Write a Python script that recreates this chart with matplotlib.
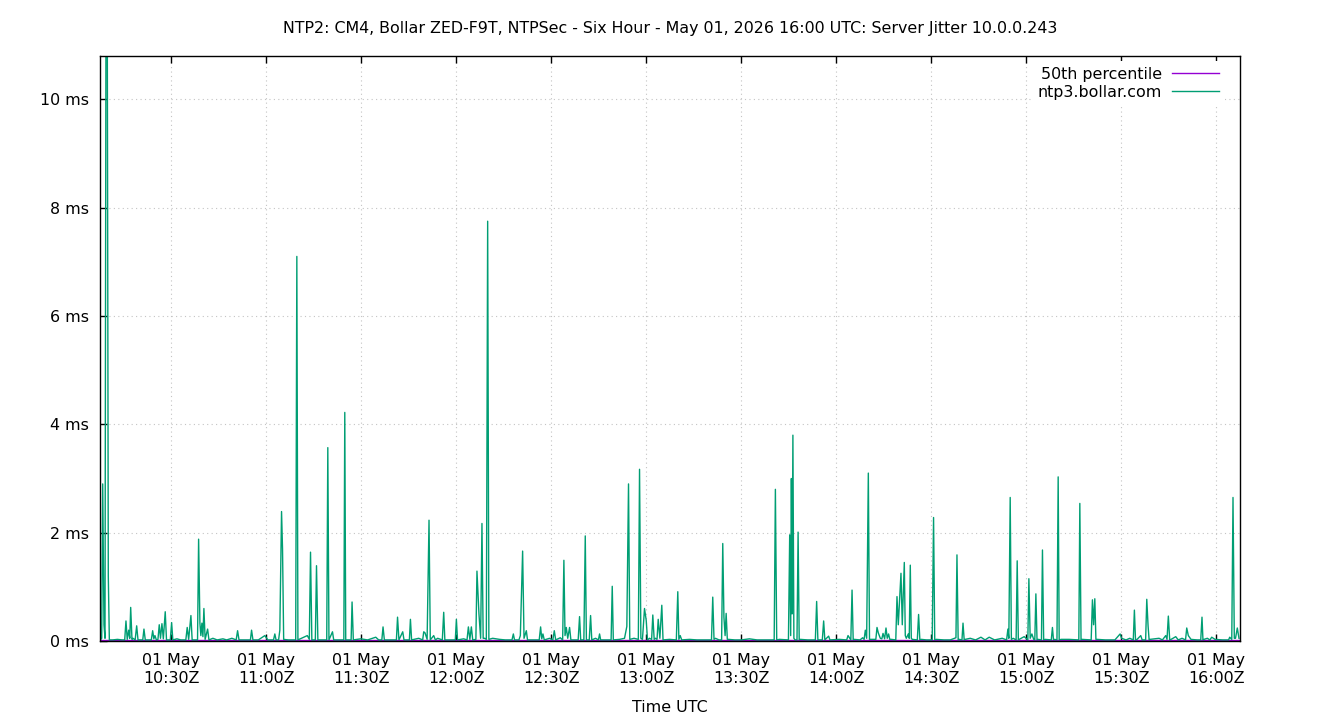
import matplotlib
matplotlib.use("Agg")
import matplotlib.pyplot as plt

# ---- data (minutes after 10:00 UTC, values in ms) ----
jitter_min = [
    7.6, 8.04, 8.35, 8.75, 9.08, 9.4, 9.75, 10.12, 10.45,
    11.5, 13.0, 14.5, 15.3, 15.70, 16.1, 16.56, 16.9, 17.19, 17.6, 17.91,
    18.6, 19.08, 19.5, 21.0, 21.38, 21.8, 23.7, 24.13, 24.5, 24.85, 25.3,
    25.8, 26.21, 26.6, 27.06, 27.5, 28.10, 28.5, 29.7, 30.12, 30.5, 31.79,
    33.0, 34.6, 35.04, 35.5, 36.21, 36.6, 38.3, 38.64, 39.05, 39.35, 39.68,
    40.0, 40.31, 40.7, 41.48, 41.9, 43.15, 44.5, 46.31, 47.5, 49.15, 50.5,
    50.95, 51.4, 53.0, 55.0, 55.36, 55.8, 57.5, 59.56, 60.5, 62.3, 62.71,
    63.1, 63.9, 64.29, 64.83, 65.14, 65.5, 67.0, 69.3, 69.66, 70.0, 71.86,
    72.97, 73.6, 73.98, 74.4, 75.5, 75.87, 76.3, 78.0, 79.1, 79.44, 79.8,
    80.92, 81.3, 83.0, 84.5, 84.80, 85.1, 86.8, 87.10, 87.5, 89.85, 92.0,
    94.58, 95.5, 96.5, 96.88, 97.3, 99.0, 101.1, 101.46, 101.9, 103.10,
    103.5, 105.2, 105.53, 105.9, 108.15, 109.4, 109.73, 110.14, 110.8,
    111.40, 111.8, 112.88, 113.4, 114.14, 115.6, 116.04, 116.4, 118.0,
    119.7, 120.04, 120.4, 122.35, 123.4, 123.83, 124.3, 124.77, 125.2,
    126.2, 126.54, 127.17, 127.7, 128.12, 128.5, 128.97, 129.5, 129.92,
    130.3, 131.50, 133.70, 135.5, 137.6, 138.03, 138.4, 139.8, 140.24,
    140.96, 141.4, 142.13, 142.5, 144.0, 146.2, 146.64, 147.0, 147.37,
    147.8, 149.48, 150.5, 150.96, 151.4, 152.85, 153.6, 153.99, 154.35,
    154.75, 155.2, 155.79, 156.2, 157.5, 158.5, 158.94, 159.3, 160.3,
    160.74, 161.1, 162.0, 162.42, 162.8, 163.99, 164.9, 165.26, 165.6,
    167.5, 168.9, 169.26, 169.6, 171.57, 173.14, 173.87, 174.40, 174.8,
    176.14, 177.5, 177.88, 178.3, 178.8, 179.45, 179.99, 180.4, 181.03,
    181.7, 182.07, 182.5, 182.92, 183.4, 183.78, 184.3, 184.91, 185.3,
    187.34, 189.5, 189.96, 190.3, 190.72, 191.2, 193.65, 196.0, 198.5,
    200.6, 201.00, 201.4, 201.85, 203.0, 203.8, 204.16, 204.53, 204.9,
    205.23, 205.6, 205.96, 208.0, 210.0, 212.58, 215.0, 218.0, 220.4,
    220.78, 221.2, 222.05, 224.9, 225.30, 225.61, 225.83, 226.05, 226.31,
    226.62, 227.0, 227.6, 227.95, 228.3, 228.67, 231.0, 233.4, 233.81,
    234.2, 235.6, 236.02, 236.4, 237.60, 238.0, 240.98, 243.3, 243.72,
    244.6, 244.99, 245.35, 245.71, 247.5, 248.33, 248.8, 249.18, 249.6,
    250.13, 250.5, 251.07, 252.5, 252.87, 253.28, 253.91, 254.4, 254.77,
    255.27, 255.71, 256.1, 256.53, 256.9, 257.38, 258.8, 259.18, 259.59,
    259.91, 260.44, 260.85, 261.49, 261.8, 262.12, 262.75, 263.05, 263.38,
    263.7, 264.01, 265.6, 266.00, 266.4, 266.85, 268.5, 270.3, 270.73,
    271.1, 271.58, 274.0, 276.0, 277.80, 278.12, 278.5, 278.84, 279.7,
    280.03, 280.4, 280.73, 282.31, 284.0, 285.69, 287.0, 288.30, 290.0,
    292.41, 293.8, 294.20, 294.5, 294.93, 295.3, 295.88, 296.8, 297.14,
    297.5, 297.77, 299.35, 300.5, 300.83, 301.24, 301.78, 302.35, 302.7,
    303.04, 303.4, 303.76, 304.8, 305.12, 305.5, 305.97, 307.9, 308.27,
    308.6, 308.97, 309.7, 310.08, 310.4, 311.02, 313.54, 316.6, 316.92,
    317.3, 317.65, 320.5, 320.90, 321.27, 321.65, 322.0, 322.38, 325.0,
    328.0, 329.64, 330.11, 331.5, 332.70, 333.8, 334.15, 334.5, 335.00,
    336.16, 336.6, 337.7, 338.06, 338.47, 338.8, 339.10, 341.94, 343.0,
    344.05, 344.45, 344.87, 345.3, 345.73, 347.21, 348.0, 349.20, 350.3,
    350.68, 351.18, 352.03, 354.0, 355.1, 355.50, 355.8, 356.14, 357.18,
    358.0, 358.57, 359.61, 362.0, 363.9, 364.25, 364.9, 365.29, 365.7,
    366.08, 366.65, 367.18,
]
jitter_ms = [
    0.02, 0.05, 2.9, 0.3, 0.05, 12.0, 13.0, 1.2, 0.02,
    0.02, 0.03, 0.02, 0.02, 0.37, 0.03, 0.2, 0.05, 0.62, 0.03, 0.05,
    0.02, 0.28, 0.02, 0.02, 0.22, 0.02, 0.02, 0.19, 0.04, 0.1, 0.02,
    0.03, 0.3, 0.05, 0.32, 0.04, 0.54, 0.02, 0.02, 0.34, 0.02, 0.04,
    0.02, 0.02, 0.25, 0.03, 0.47, 0.02, 0.02, 1.88, 0.33, 0.1, 0.33,
    0.08, 0.6, 0.03, 0.22, 0.02, 0.05, 0.02, 0.04, 0.02, 0.05, 0.02,
    0.19, 0.02, 0.02, 0.02, 0.2, 0.02, 0.02, 0.1, 0.02, 0.02, 0.13,
    0.02, 0.02, 0.2, 2.39, 1.7, 0.03, 0.02, 0.02, 7.1, 0.02, 0.07,
    0.1, 0.03, 1.64, 0.02, 0.02, 1.39, 0.02, 0.02, 0.02, 3.57, 0.02,
    0.17, 0.02, 0.02, 0.02, 4.22, 0.02, 0.02, 0.72, 0.02, 0.04, 0.02,
    0.07, 0.02, 0.02, 0.26, 0.02, 0.02, 0.02, 0.44, 0.02, 0.17,
    0.02, 0.02, 0.4, 0.02, 0.05, 0.02, 0.17, 0.15, 0.03,
    2.23, 0.02, 0.1, 0.02, 0.05, 0.02, 0.53, 0.02, 0.02,
    0.02, 0.4, 0.02, 0.04, 0.02, 0.26, 0.03, 0.26, 0.02,
    0.03, 1.29, 0.5, 0.05, 2.17, 0.05, 0.05, 0.03, 7.75,
    0.03, 0.05, 0.03, 0.02, 0.02, 0.13, 0.02, 0.02, 0.1,
    1.66, 0.05, 0.19, 0.02, 0.02, 0.02, 0.26, 0.04, 0.13,
    0.02, 0.05, 0.02, 0.19, 0.02, 0.06, 0.02, 1.49, 0.1,
    0.25, 0.05, 0.25, 0.02, 0.02, 0.02, 0.45, 0.02, 0.02,
    1.94, 0.02, 0.02, 0.47, 0.02, 0.05, 0.02, 0.13, 0.02,
    0.02, 0.02, 1.01, 0.02, 0.03, 0.05, 0.27, 2.9, 0.03,
    0.05, 0.03, 3.17, 0.05, 0.03, 0.6, 0.38, 0.02, 0.05,
    0.03, 0.48, 0.03, 0.05, 0.03, 0.4, 0.05, 0.66, 0.02,
    0.03, 0.02, 0.91, 0.03, 0.1, 0.02, 0.03, 0.02, 0.02,
    0.02, 0.81, 0.03, 0.05, 0.02, 0.02, 1.8, 0.44, 0.1,
    0.51, 0.03, 0.03, 0.02, 0.02, 0.04, 0.02, 0.02, 0.02,
    2.8, 0.02, 0.03, 0.02, 1.96, 0.1, 3.0, 0.5, 3.8,
    0.05, 0.02, 0.02, 2.01, 0.02, 0.03, 0.02, 0.02, 0.73,
    0.02, 0.02, 0.37, 0.02, 0.09, 0.02, 0.03, 0.02, 0.1,
    0.02, 0.94, 0.02, 0.03, 0.02, 0.06, 0.03, 0.2, 0.05,
    3.1, 0.03, 0.03, 0.03, 0.25, 0.15, 0.05, 0.04, 0.14,
    0.04, 0.24, 0.05, 0.13, 0.03, 0.03, 0.02, 0.82, 0.3,
    0.66, 1.25, 0.3, 1.45, 0.1, 0.05, 0.13, 0.05, 1.4,
    0.05, 0.03, 0.02, 0.49, 0.02, 0.03, 0.02, 0.02, 2.28,
    0.02, 0.03, 0.02, 0.02, 0.06, 1.59, 0.02, 0.03, 0.02,
    0.33, 0.02, 0.03, 0.05, 0.02, 0.07, 0.02, 0.07, 0.02,
    0.05, 0.02, 0.22, 0.05, 2.65, 0.03, 0.05, 0.02, 1.48,
    0.02, 0.03, 0.08, 0.02, 1.15, 0.05, 0.13, 0.03, 0.02,
    0.87, 0.02, 0.03, 0.02, 1.68, 0.02, 0.03, 0.02, 0.25,
    0.02, 0.03, 0.02, 3.03, 0.02, 0.03, 0.03, 0.02, 2.54,
    0.02, 0.03, 0.02, 0.76, 0.3, 0.78, 0.03, 0.03, 0.02,
    0.02, 0.13, 0.05, 0.02, 0.05, 0.02, 0.57, 0.02, 0.03,
    0.1, 0.02, 0.02, 0.77, 0.28, 0.02, 0.03, 0.05, 0.02,
    0.1, 0.03, 0.46, 0.02, 0.03, 0.08, 0.02, 0.05, 0.02,
    0.24, 0.1, 0.03, 0.02, 0.02, 0.44, 0.02, 0.03, 0.05,
    0.02, 0.07, 0.03, 0.02, 0.02, 0.07, 0.03, 2.65, 0.05,
    0.05, 0.24, 0.05,
]
percentile_min = [7.5, 60.0, 120.0, 180.0, 240.0, 300.0, 367.5]
percentile_ms = [0.012, 0.012, 0.012, 0.012, 0.012, 0.012, 0.012]

xtick_min = [30, 60, 90, 120, 150, 180, 210, 240, 270, 300, 330, 360]
xtick_labels = ["01 May\n10:30Z", "01 May\n11:00Z", "01 May\n11:30Z",
                "01 May\n12:00Z", "01 May\n12:30Z", "01 May\n13:00Z",
                "01 May\n13:30Z", "01 May\n14:00Z", "01 May\n14:30Z",
                "01 May\n15:00Z", "01 May\n15:30Z", "01 May\n16:00Z"]
ytick_ms = [0, 2, 4, 6, 8, 10]
ytick_labels = ["0 ms", "2 ms", "4 ms", "6 ms", "8 ms", "10 ms"]

title = ("NTP2: CM4, Bollar ZED-F9T, NTPSec - Six Hour - May 01, 2026 16:00 UTC: "
         "Server Jitter 10.0.0.243")

FS = 11.4

# ---- figure ----
W, H = 1340, 720
fig = plt.figure(figsize=(W / 100, H / 100), dpi=100)
ax = fig.add_axes([100 / W, (H - 641) / H, 1140 / W, 585 / H])

ax.plot(percentile_min, percentile_ms, color="#9400d3", lw=1.0,
        label="50th percentile")
ax.plot(jitter_min, jitter_ms, color="#009e73", lw=1.0,
        label="ntp3.bollar.com")

ax.set_xlim(7.5, 367.5)
ax.set_ylim(0, 10.8)
ax.set_xticks(xtick_min)
ax.set_xticklabels(xtick_labels, fontsize=FS, linespacing=1.2)
ax.set_yticks(ytick_ms)
ax.set_yticklabels(ytick_labels, fontsize=FS)

ax.tick_params(axis="x", direction="in", top=True, bottom=True, length=5,
               width=1, pad=9)
ax.tick_params(axis="y", direction="in", left=True, right=False, length=5,
               width=1, pad=8)
for s in ax.spines.values():
    s.set_linewidth(1.0)
    s.set_color("black")

ax.grid(True, color="#c4c4c4", linestyle=(0, (1, 3)), linewidth=0.8)
ax.set_axisbelow(True)

ax.set_xlabel("Time UTC", fontsize=FS, labelpad=10)

leg = ax.legend(loc="upper right", bbox_to_anchor=(1 - 14.6 / 1140, 1 - 4.5 / 585),
                markerfirst=False, fontsize=FS, handlelength=3.0,
                handletextpad=0.62, labelspacing=0.2, borderpad=0.4,
                borderaxespad=0.0, frameon=True, fancybox=False)
leg.get_frame().set_edgecolor("none")
leg.get_frame().set_facecolor("white")
leg.get_frame().set_alpha(1.0)

fig.text(0.5, 1 - 28 / H, title, ha="center", va="center", fontsize=FS)

fig.savefig("out.png", dpi=100)
